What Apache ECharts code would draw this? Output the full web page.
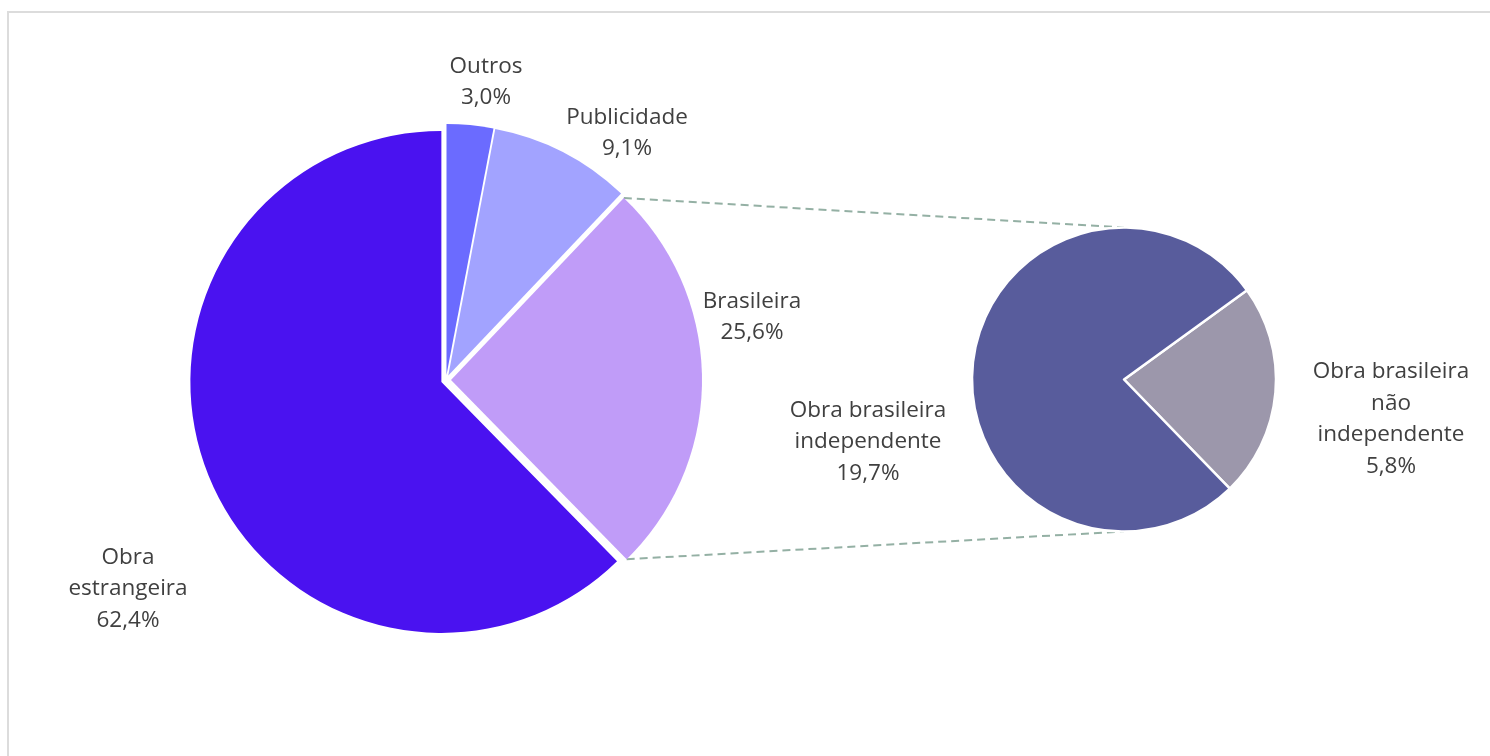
<!DOCTYPE html>
<html>
<head>
<meta charset="utf-8">
<script src="https://cdn.jsdelivr.net/npm/echarts@6/dist/echarts.min.js"></script>
<style>
  html, body { margin: 0; padding: 0; background: #ffffff; }
  #frame { position: absolute; left: 7px; top: 11px; width: 1600px; height: 900px;
           border-top: 2px solid #dcdcdc; border-left: 2px solid #dcdcdc; }
  #chart { position: absolute; left: 0; top: 0; width: 1490px; height: 756px; }
</style>
</head>
<body>
<div id="frame"></div>
<div id="chart"></div>
<script>
// ---- data ----
var mainCategories = ['Outros', 'Publicidade', 'Brasileira', 'Obra\nestrangeira'];
var mainValues = [3.0, 9.1, 25.6, 62.4];
var mainColors = ['#6B6BFF', '#A2A3FF', '#C09CF8', '#4A12F0'];

var subCategories = ['Obra brasileira\nnão\nindependente', 'Obra brasileira\nindependente'];
var subValues = [5.8, 19.7];
var subColors = ['#9C97AB', '#585C9C'];

// label anchor positions (layout only)
var mainLabelPos = [[486, 82], [627, 133], [752, 317], [128, 589]];
var subLabelPos = [[1391, 419], [868, 442]];

// ---- layout ----
var mainCenter = [446, 380], mainR = 251, explode = 5;
var subCenter = [1124, 379.5], subR = 152;
var txtColor = '#404040';
var fontFamily = '"Open Sans", "Noto Sans", sans-serif';

function fmt(v) { return v.toFixed(1).replace('.', ',') + '%'; }

var total = mainValues.reduce(function (a, b) { return a + b; }, 0);
var startA = [], endA = [];
(function () {
  var acc = 0;
  for (var i = 0; i < mainValues.length; i++) {
    startA.push(acc / total * 2 * Math.PI);
    acc += mainValues[i];
    endA.push(acc / total * 2 * Math.PI);
  }
})();
function explodedCenter(i) {
  var m = (startA[i] + endA[i]) / 2;
  return [mainCenter[0] + explode * Math.sin(m), mainCenter[1] - explode * Math.cos(m)];
}

var labelCommon = {
  show: true, position: 'outside', color: txtColor, fontSize: 22.5, lineHeight: 31.5,
  fontFamily: fontFamily, align: 'center',
  formatter: function (p) { return p.name + '\n' + fmt(p.value); }
};
function layoutFrom(arr) {
  return function (p) {
    var pos = arr[p.dataIndex];
    return { x: pos[0], y: pos[1], align: 'center', verticalAlign: 'middle' };
  };
}

// one series per exploded slice of the main pie
var series = mainCategories.map(function (name, i) {
  return {
    type: 'pie', center: explodedCenter(i), radius: mainR, startAngle: 90, clockwise: true,
    avoidLabelOverlap: false, silent: true, z: 2,
    label: labelCommon, labelLine: { show: false },
    labelLayout: layoutFrom(mainLabelPos),
    data: mainCategories.map(function (n, j) {
      return j === i
        ? { name: n, value: mainValues[j], itemStyle: { color: mainColors[j] } }
        : { name: n, value: mainValues[j], itemStyle: { color: 'rgba(0,0,0,0)' }, label: { show: false } };
    })
  };
});

series.push({
  type: 'pie', center: subCenter, radius: subR, startAngle: 36, clockwise: true,
  avoidLabelOverlap: false, silent: true, z: 2,
  itemStyle: { borderColor: '#ffffff', borderWidth: 2.5 },
  label: labelCommon, labelLine: { show: false },
  labelLayout: layoutFrom(subLabelPos),
  data: subCategories.map(function (n, i) {
    return { name: n, value: subValues[i], itemStyle: { color: subColors[i] } };
  })
});

// connector endpoints computed from the Brasileira slice geometry
var bIdx = 2, bc = explodedCenter(bIdx);
var p0 = [bc[0] + mainR * Math.sin(startA[bIdx]), bc[1] - mainR * Math.cos(startA[bIdx])];
var p1 = [bc[0] + mainR * Math.sin(endA[bIdx]), bc[1] - mainR * Math.cos(endA[bIdx])];
var q0 = [subCenter[0], subCenter[1] - subR];
var q1 = [subCenter[0], subCenter[1] + subR];
var connStyle = { stroke: '#94B0A4', lineWidth: 2, lineDash: [8, 5] };

var chart = echarts.init(document.getElementById('chart'), null, { renderer: 'canvas' });
chart.setOption({
  animation: false,
  backgroundColor: 'transparent',
  graphic: [
    { type: 'line', z: 0, shape: { x1: p0[0], y1: p0[1], x2: q0[0], y2: q0[1] }, style: connStyle },
    { type: 'line', z: 0, shape: { x1: p1[0], y1: p1[1], x2: q1[0], y2: q1[1] }, style: connStyle }
  ],
  series: series
});
</script>
</body>
</html>
